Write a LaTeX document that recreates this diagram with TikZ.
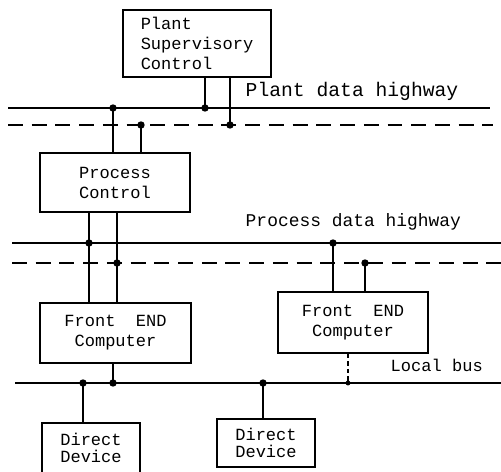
\documentclass[tikz,border=0pt]{standalone}
\usepackage{fontspec}
\newfontfamily\maqfont{Liberation Mono}
\begin{document}
\begin{tikzpicture}[x=0.02cm, y=-0.02cm, line width=0.85pt,
    caja/.style={draw, rectangle, inner sep=0pt, font=\maqfont\fontsize{9.7}{11.4}\selectfont},
    etiqueta/.style={anchor=west, inner sep=0pt, font=\maqfont\fontsize{9.7}{11.4}\selectfont},
    punto/.style={circle, fill, inner sep=0pt, minimum size=4.2pt},
    trazos/.style={dash pattern=on 8.5pt off 5pt}]
    \useasboundingbox (0,0) rectangle (501,471);

    % Cajas
    \node[caja, minimum width=2.96cm, minimum height=1.34cm, align=left] (psc) at (197,43.5)
        {Plant\\Supervisory\\Control};
    \node[caja, minimum width=3.0cm, minimum height=1.18cm, align=center] (pc) at (115,182.5)
        {Process\\Control};
    \node[caja, minimum width=3.02cm, minimum height=1.2cm, align=center] (fe1) at (115.5,333)
        {Front\ \ END\\Computer};
    \node[caja, minimum width=3.0cm, minimum height=1.22cm, align=center] (fe2) at (353,322.5)
        {Front\ \ END\\Computer};
    \node[caja, minimum width=1.96cm, minimum height=1.0cm, align=left,
          font=\maqfont\fontsize{9.7}{9.6}\selectfont] (dd1) at (91,448) {Direct\\Device};
    \node[caja, minimum width=1.96cm, minimum height=0.96cm, align=left,
          font=\maqfont\fontsize{9.7}{9.6}\selectfont] (dd2) at (266,443) {Direct\\Device};

    % Extremos de los buses
    \coordinate (plI) at (8,108);    \coordinate (plD) at (490,108);   % Plant data highway
    \coordinate (ptI) at (8,125);    \coordinate (ptD) at (493,125);   % (reserva)
    \coordinate (prI) at (12,243);   \coordinate (prD) at (501,243);   % Process data highway
    \coordinate (prtI) at (12,263);  \coordinate (prtD) at (501,263);  % (reserva)
    \coordinate (lbI) at (15,383);   \coordinate (lbD) at (501,383);   % Local bus

    \draw (plI) -- (plD);
    \draw[trazos] (ptI) -- (ptD);
    \draw (prI) -- (prD);
    \draw[trazos] (prtI) -- (prtD);
    \draw (lbI) -- (lbD);

    % Textos de los buses
    \node[etiqueta, font=\maqfont\fontsize{11.2}{13}\selectfont] (tpl) at (245,91) {Plant data highway};
    \node[etiqueta, font=\maqfont\fontsize{10.2}{12}\selectfont] (tpr) at (245,222) {Process data highway};
    \node[etiqueta] (tlb) at (390,365) {Local bus};

    % Conexiones (puntos de union)
    \coordinate (a1) at (205,108);  \coordinate (a2) at (230,125);
    \coordinate (b1) at (113,108);  \coordinate (b2) at (141,125);
    \coordinate (c1) at (89,243);   \coordinate (c2) at (117,263);
    \coordinate (d1) at (333,243);  \coordinate (d2) at (365,263);
    \coordinate (e1) at (113,383);  \coordinate (e2) at (83,383);
    \coordinate (e3) at (263,383);  \coordinate (e4) at (348,383);

    \draw (psc.south -| a1) -- (a1);
    \draw (psc.south -| a2) -- (a2);
    \draw (b1) -- (pc.north -| b1);
    \draw (b2) -- (pc.north -| b2);
    \draw (pc.south -| c1) -- (fe1.north -| c1);
    \draw (pc.south -| c2) -- (fe1.north -| c2);
    \draw (d1) -- (fe2.north -| d1);
    \draw (d2) -- (fe2.north -| d2);
    \draw (fe1.south -| e1) -- (e1);
    \draw (e2) -- (dd1.north -| e2);
    \draw (e3) -- (dd2.north -| e3);
    \draw[line width=0.6pt, dash pattern=on 2.5pt off 1.8pt] (fe2.south -| e4) -- (e4);

    \foreach \p in {a1, a2, b1, b2, c1, c2, d1, d2, e1, e2, e3}
        \node[punto] at (\p) {};
    \node[punto, minimum size=2.8pt] at (e4) {};

\end{tikzpicture}
\end{document}
